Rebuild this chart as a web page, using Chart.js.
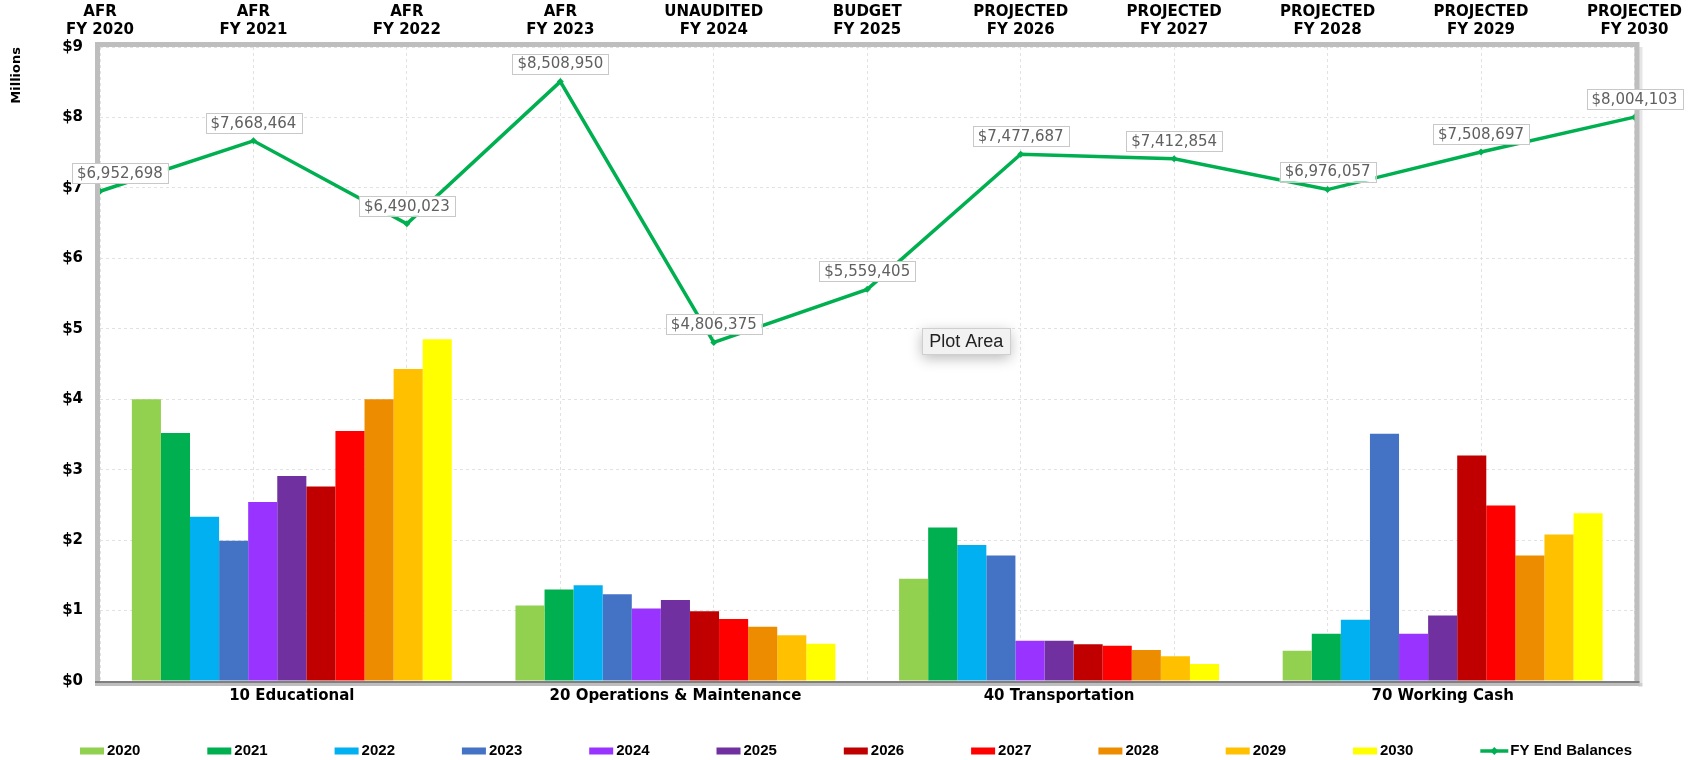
<!DOCTYPE html>
<html><head><meta charset="utf-8">
<script src="https://cdn.jsdelivr.net/npm/chart.js@4/dist/chart.umd.min.js"></script>
<style>html,body{margin:0;padding:0;background:#fff;overflow:hidden}#wrap{width:1690px;height:760px;position:relative}</style>
</head><body><div id="wrap"><canvas id="c" width="1690" height="760"></canvas></div>
<script>
// ---- data ----
const categories = ['10 Educational', '20 Operations & Maintenance', '40 Transportation', '70 Working Cash'];
const years = ['2020', '2021', '2022', '2023', '2024', '2025', '2026', '2027', '2028', '2029', '2030'];
// values in millions of dollars, per category (Educational, O&M, Transportation, Working Cash)
const v2020 = [4.00, 1.07, 1.45, 0.43];
const v2021 = [3.52, 1.30, 2.18, 0.67];
const v2022 = [2.33, 1.36, 1.93, 0.87];
const v2023 = [1.99, 1.23, 1.78, 3.51];
const v2024 = [2.54, 1.03, 0.57, 0.67];
const v2025 = [2.91, 1.15, 0.57, 0.93];
const v2026 = [2.76, 0.99, 0.52, 3.20];
const v2027 = [3.55, 0.88, 0.50, 2.49];
const v2028 = [4.00, 0.77, 0.44, 1.78];
const v2029 = [4.43, 0.65, 0.35, 2.08];
const v2030 = [4.85, 0.53, 0.24, 2.38];
const fyLabels = [['AFR', 'FY 2020'], ['AFR', 'FY 2021'], ['AFR', 'FY 2022'], ['AFR', 'FY 2023'], ['UNAUDITED', 'FY 2024'], ['BUDGET', 'FY 2025'], ['PROJECTED', 'FY 2026'], ['PROJECTED', 'FY 2027'], ['PROJECTED', 'FY 2028'], ['PROJECTED', 'FY 2029'], ['PROJECTED', 'FY 2030']];
const fyEndBalances = [6952698, 7668464, 6490023, 8508950, 4806375, 5559405, 7477687, 7412854, 6976057, 7508697, 8004103];
const lineName = 'FY End Balances';
const yMin = 0, yMax = 9, yStep = 1;

// ---- styles ----
const yearColors = ['#92D050', '#00B050', '#00B0F0', '#4472C4', '#9933FF', '#7030A0', '#C00000', '#FF0000', '#EE8C00', '#FFC000', '#FFFF00'];
const lineColor = '#00B050';
const seriesValues = [v2020, v2021, v2022, v2023, v2024, v2025, v2026, v2027, v2028, v2029, v2030];

const datasets = years.map((y, i) => ({
  type: 'bar', indexAxis: 'x', label: y, data: seriesValues[i], backgroundColor: yearColors[i],
  xAxisID: 'x', yAxisID: 'y', order: 1, categoryPercentage: 0.834, barPercentage: 1.0, borderWidth: 0
}));
datasets.push({
  type: 'line', indexAxis: 'x', label: lineName, data: fyEndBalances.map(v => v / 1e6), xAxisID: 'x2', yAxisID: 'y', order: 0,
  borderColor: lineColor, backgroundColor: lineColor, borderWidth: 3.5, tension: 0,
  pointStyle: 'rectRot', pointRadius: 3.5, pointBackgroundColor: lineColor, pointBorderColor: lineColor, pointBorderWidth: 0
});

const BOLD = "'DejaVu Sans', Verdana, sans-serif";
const gridStyle = { color: '#E2E2E2', lineWidth: 1, drawTicks: false };

const framePlugin = {
  id: 'frame',
  afterDatasetsDraw(chart) {
    const { ctx, chartArea: a } = chart;
    ctx.save();
    ctx.fillStyle = 'rgba(0,0,0,0.10)';
    ctx.fillRect(a.right + 4, a.top, 4, a.bottom - a.top + 6);
    ctx.fillRect(a.left, a.bottom + 2, a.right - a.left + 8, 3);
    ctx.strokeStyle = '#BEBEBE';
    ctx.lineWidth = 5;
    ctx.strokeRect(a.left - 2.5, a.top - 2.5, a.right - a.left + 5, a.bottom - a.top + 5);
    ctx.strokeStyle = '#7F7F7F';
    ctx.lineWidth = 2;
    ctx.beginPath();
    ctx.moveTo(a.left - 5, a.bottom + 1);
    ctx.lineTo(a.right + 5, a.bottom + 1);
    ctx.stroke();
    ctx.restore();
  },
  afterDraw(chart) {
    const { ctx, chartArea: a } = chart;
    // data labels for the line
    const meta = chart.getDatasetMeta(datasets.length - 1);
    ctx.save();
    ctx.font = "15px 'DejaVu Sans', Verdana, sans-serif";
    ctx.textAlign = 'center';
    ctx.textBaseline = 'middle';
    meta.data.forEach((pt, i) => {
      const txt = '$' + fyEndBalances[i].toLocaleString('en-US');
      const w = ctx.measureText(txt).width + 10;
      const h = 20;
      const cx = Math.max(pt.x, a.left - 28 + w / 2);
      const cy = pt.y - 18;
      ctx.fillStyle = '#FFFFFF';
      ctx.fillRect(cx - w / 2, cy - h / 2, w, h);
      ctx.strokeStyle = '#C8C8C8';
      ctx.lineWidth = 1;
      ctx.strokeRect(Math.round(cx - w / 2) + 0.5, Math.round(cy - h / 2) + 0.5, Math.round(w), h);
      ctx.fillStyle = '#606060';
      ctx.fillText(txt, cx, cy + 1);
    });
    ctx.restore();

    // "Plot Area" hover tag
    ctx.save();
    const px = a.left + (a.right - a.left) * 0.5645, py = a.top + (a.bottom - a.top) * 0.464;
    ctx.font = "18px 'Liberation Sans', Arial, sans-serif";
    const tw = ctx.measureText('Plot Area').width + 14;
    ctx.shadowColor = 'rgba(0,0,0,0.28)';
    ctx.shadowBlur = 14;
    ctx.shadowOffsetY = 4;
    ctx.fillStyle = '#F2F2F2';
    ctx.fillRect(px - tw / 2, py - 13, tw, 26);
    ctx.shadowColor = 'transparent';
    ctx.strokeStyle = '#CFCFCF';
    ctx.lineWidth = 1;
    ctx.strokeRect(Math.round(px - tw / 2) + 0.5, Math.round(py - 13) + 0.5, Math.round(tw), 26);
    ctx.fillStyle = '#222222';
    ctx.textAlign = 'center';
    ctx.textBaseline = 'middle';
    ctx.fillText('Plot Area', px, py + 1);
    ctx.restore();

    // legend
    ctx.save();
    const startX = 80, pitch = 127.3, ly = 751;
    ctx.font = "bold 15px 'Liberation Sans', Arial, sans-serif";
    ctx.textBaseline = 'middle';
    ctx.textAlign = 'left';
    chart.data.datasets.forEach((ds, i) => {
      const x0 = startX + i * pitch;
      if (ds.type === 'line') {
        ctx.strokeStyle = ds.borderColor;
        ctx.lineWidth = 3.5;
        ctx.beginPath(); ctx.moveTo(x0, ly); ctx.lineTo(x0 + 28, ly); ctx.stroke();
        ctx.fillStyle = ds.borderColor;
        ctx.beginPath();
        ctx.moveTo(x0 + 14, ly - 4); ctx.lineTo(x0 + 18, ly); ctx.lineTo(x0 + 14, ly + 4); ctx.lineTo(x0 + 10, ly);
        ctx.closePath(); ctx.fill();
        ctx.fillStyle = '#000';
        ctx.fillText(ds.label, x0 + 30, ly);
      } else {
        ctx.fillStyle = ds.backgroundColor;
        ctx.fillRect(x0, ly - 3.5, 24, 7);
        ctx.fillStyle = '#000';
        ctx.fillText(ds.label, x0 + 27, ly);
      }
    });
    ctx.restore();
  }
};

new Chart(document.getElementById('c'), {
  data: { labels: categories, datasets },
  options: {
    indexAxis: 'y',
    responsive: false, animation: false, devicePixelRatio: 1,
    layout: { padding: { left: 0, right: 50, top: 0, bottom: 0 } },
    plugins: { legend: { display: false }, tooltip: { enabled: false } },
    scales: {
      x: {
        type: 'category', axis: 'x', position: 'bottom', labels: categories, offset: true,
        grid: { display: false, drawTicks: false }, border: { display: false },
        ticks: { color: '#000', padding: 6, font: { family: BOLD, size: 15, weight: 'bold' }, maxRotation: 0 },
        afterFit(s) { s.height = 79; }
      },
      x2: {
        type: 'category', axis: 'x', position: 'top', labels: fyLabels, offset: false,
        grid: gridStyle, border: { display: false, dash: [3, 3] },
        ticks: { color: '#000', padding: 8, font: { family: BOLD, size: 15, weight: 'bold' }, maxRotation: 0, autoSkip: false },
        afterFit(s) { s.height = 47; }
      },
      y: {
        type: 'linear', axis: 'y', position: 'left', min: yMin, max: yMax,
        grid: gridStyle, border: { display: false, dash: [3, 3] },
        ticks: { stepSize: yStep, color: '#000', padding: 17, font: { family: BOLD, size: 15, weight: 'bold' }, callback: v => '$' + v },
        title: { display: true, text: 'Millions', align: 'end', color: '#000', font: { family: BOLD, size: 13, weight: 'bold' }, padding: { top: 9, bottom: 0 } },
        afterFit(s) { s.width = 100; }
      }
    }
  },
  plugins: [framePlugin]
});
</script>
</body></html>
